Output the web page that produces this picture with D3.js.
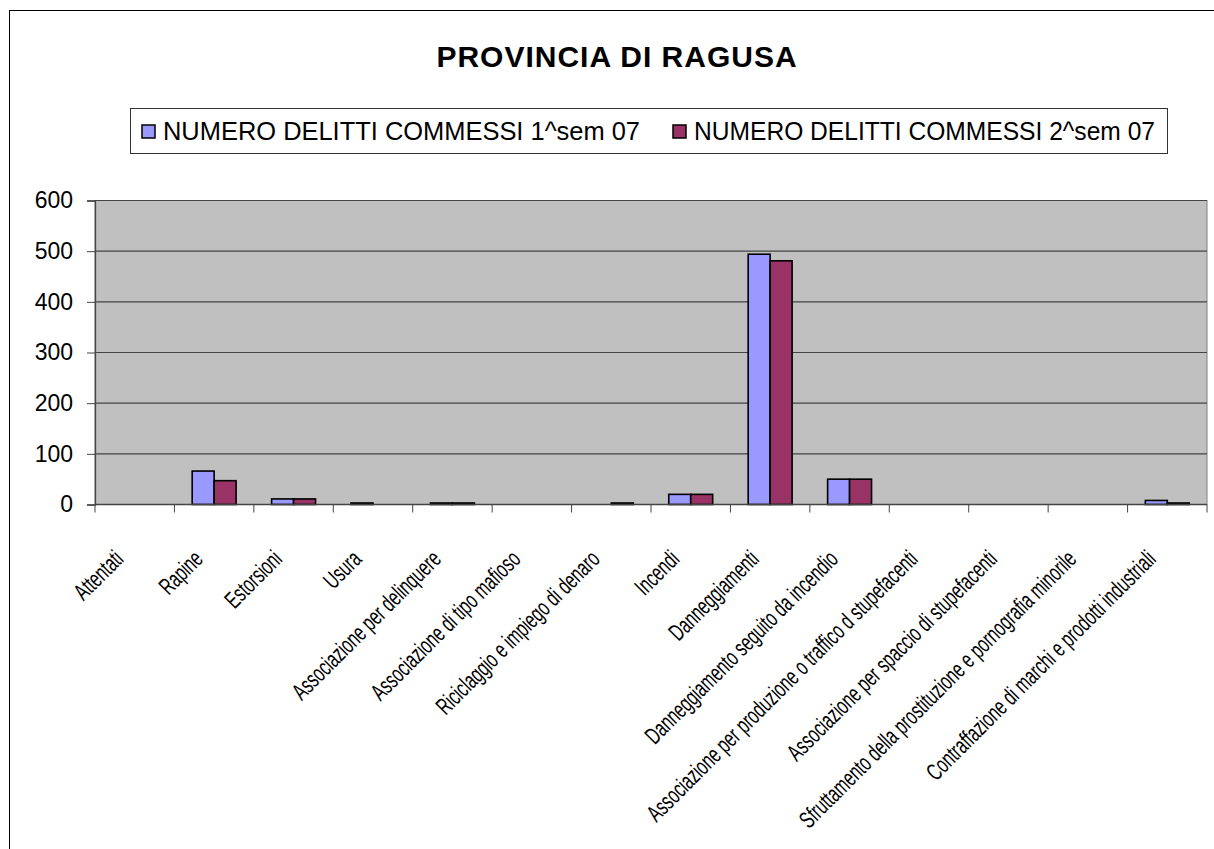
<!DOCTYPE html>
<meta charset="utf-8">
<title>Provincia di Ragusa</title>
<style>
  body { margin: 0; background: #fff; }
  svg { display: block; }
  .tick text { font-family: "Liberation Sans", Arial, sans-serif; }
</style>
<script src="https://d3js.org/d3.v7.min.js"></script>
<div id="chart"></div>
<script>
// categories (x axis)
const categories = [
  "Attentati",
  "Rapine",
  "Estorsioni",
  "Usura",
  "Associazione per delinquere",
  "Associazione di tipo mafioso",
  "Riciclaggio e impiego di denaro",
  "Incendi",
  "Danneggiamenti",
  "Danneggiamento  seguito da incendio",
  "Associazione per produzione o traffico d stupefacenti",
  "Associazione per spaccio di stupefacenti",
  "Sfruttamento della prostituzione e pornografia minorile",
  "Contraffazione di marchi e prodotti industriali"
];
const seriesNames = ["NUMERO DELITTI COMMESSI 1^sem 07", "NUMERO DELITTI COMMESSI 2^sem 07"];
const sem1 = [0, 66, 11, 3, 3, 0, 0, 20, 494, 50, 0, 0, 0, 8];
const sem2 = [0, 47, 11, 0, 3, 0, 3, 20, 481, 50, 0, 0, 0, 3];
const yTicks = [0, 100, 200, 300, 400, 500, 600];
const colors = ["#9999ff", "#993366"];

const W = 1214, H = 849;
const plot = {left: 95, right: 1207, top: 200.5, bottom: 504.5};

const svg = d3.select("#chart").append("svg")
  .attr("width", W).attr("height", H);

// outer chart frame (runs past the right and bottom edges)
svg.append("rect")
  .attr("x", 9.5).attr("y", 10.5)
  .attr("width", 1300).attr("height", 1000)
  .attr("fill", "none").attr("stroke", "#000");

// title
svg.append("text")
  .attr("x", 617).attr("y", 67)
  .attr("text-anchor", "middle")
  .style("font-family", "Liberation Sans, Arial, sans-serif")
  .style("font-weight", "bold")
  .style("font-size", "30px")
  .style("letter-spacing", "1px")
  .text("PROVINCIA DI RAGUSA");

// scales
const x = d3.scaleBand().domain(categories).range([plot.left, plot.right]).padding(0);
const bw = x.bandwidth();
const xs = d3.scaleBand().domain(seriesNames).range([bw * 0.2235, bw * 0.7765]);
const y = d3.scaleLinear().domain([0, 600]).range([plot.bottom, plot.top]);

// plot background
svg.append("rect")
  .attr("x", plot.left).attr("y", plot.top)
  .attr("width", plot.right - plot.left).attr("height", plot.bottom - plot.top)
  .attr("fill", "#c0c0c0")
  .attr("stroke", "#808080");

// gridlines
svg.append("g").selectAll("line")
  .data(yTicks.filter(d => d > 0))
  .join("line")
    .attr("x1", plot.left).attr("x2", plot.right)
    .attr("y1", d => y(d)).attr("y2", d => y(d))
    .attr("stroke", "#444").attr("stroke-width", 1.2);

// bars
const table = categories.map((c, i) => ({cat: c, vals: [sem1[i], sem2[i]]}));
svg.append("g").selectAll("g")
  .data(table)
  .join("g")
    .attr("transform", d => `translate(${x(d.cat)},0)`)
  .selectAll("rect")
  .data(d => d.vals.map((v, k) => ({s: seriesNames[k], v, k})).filter(e => e.v > 0))
  .join("rect")
    .attr("x", e => xs(e.s))
    .attr("y", e => y(e.v))
    .attr("width", xs.bandwidth())
    .attr("height", e => y(0) - y(e.v))
    .attr("fill", e => colors[e.k])
    .attr("stroke", "#000")
    .attr("stroke-width", 1.6);

// y axis
const yAxis = svg.append("g")
  .attr("transform", `translate(${plot.left},0)`)
  .call(d3.axisLeft(y).tickValues(yTicks).tickSize(8).tickPadding(14));
yAxis.select(".domain").attr("stroke", "#444").attr("stroke-width", 1.3);
yAxis.selectAll(".tick line").attr("stroke", "#444");
yAxis.selectAll(".tick text").style("font-size", "23px").attr("fill", "#000");

// x axis: ticks at category boundaries
const xAxis = svg.append("g")
  .attr("transform", `translate(0,${plot.bottom})`);
xAxis.append("line")
  .attr("x1", plot.left).attr("x2", plot.right)
  .attr("stroke", "#444").attr("stroke-width", 1.3);
xAxis.selectAll("line.tk")
  .data(categories.concat(["_end"]))
  .join("line").attr("class", "tk")
    .attr("x1", (d, i) => i < categories.length ? x(d) : plot.right)
    .attr("x2", (d, i) => i < categories.length ? x(d) : plot.right)
    .attr("y1", 0).attr("y2", 8)
    .attr("stroke", "#444");
// condensed labels: narrow the glyphs along the baseline
xAxis.selectAll("text")
  .data(categories)
  .join("text")
    .attr("transform", d => `translate(${x(d) + bw / 2 - 10},${56}) rotate(-45) scale(0.66,1)`)
    .attr("text-anchor", "end")
    .style("font-family", "Liberation Sans, Arial, sans-serif")
    .style("font-size", "24px")
    .text(d => d);

// legend
const legend = svg.append("g");
legend.append("rect")
  .attr("x", 130.5).attr("y", 108.5)
  .attr("width", 1037).attr("height", 45)
  .attr("fill", "#fff").attr("stroke", "#333");
const legX = [142, 673];
const legLen = [477, 461];
seriesNames.forEach((s, k) => {
  legend.append("rect")
    .attr("x", legX[k]).attr("y", 125)
    .attr("width", 13).attr("height", 13)
    .attr("fill", colors[k]).attr("stroke", "#000").attr("stroke-width", 1.5);
  legend.append("text")
    .attr("x", legX[k] + 21).attr("y", 139.5)
    .attr("textLength", legLen[k]).attr("lengthAdjust", "spacingAndGlyphs")
    .style("font-family", "Liberation Sans, Arial, sans-serif")
    .style("font-size", "26px")
    .text(s);
});
</script>
